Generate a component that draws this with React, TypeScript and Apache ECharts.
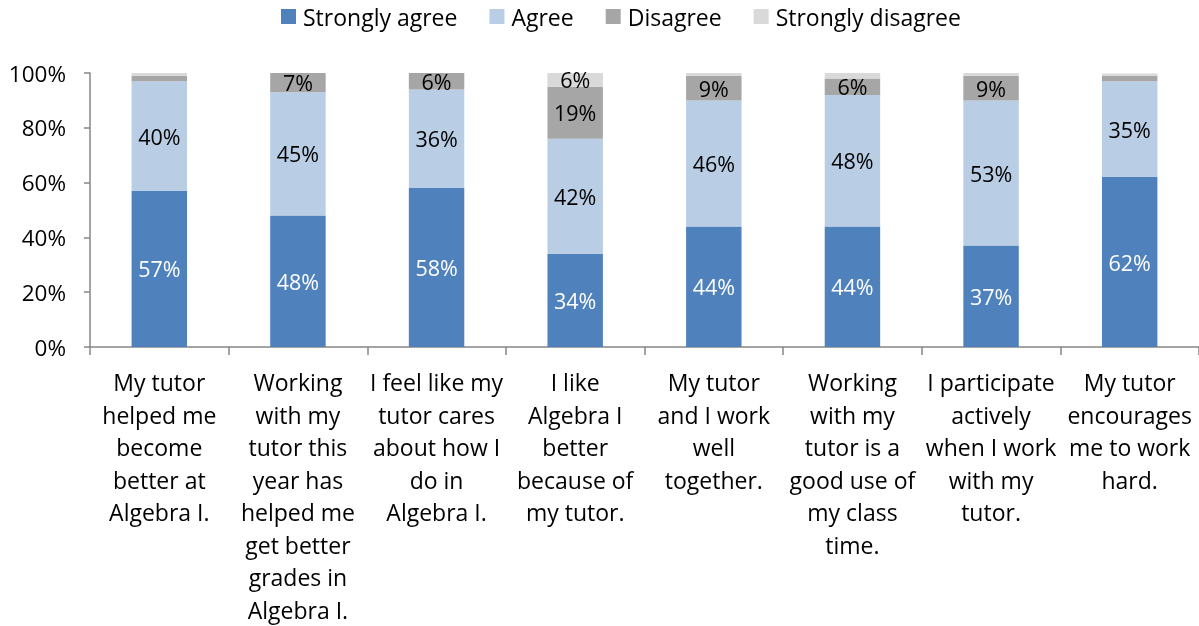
import React, { useEffect, useRef } from "react";
import * as echarts from "echarts";

const categories = [
  "My tutor\nhelped me\nbecome\nbetter at\nAlgebra I.",
  "Working\nwith my\ntutor this\nyear has\nhelped me\nget better\ngrades in\nAlgebra I.",
  "I feel like my\ntutor cares\nabout how I\ndo in\nAlgebra I.",
  "I like\nAlgebra I\nbetter\nbecause of\nmy tutor.",
  "My tutor\nand I work\nwell\ntogether.",
  "Working\nwith my\ntutor is a\ngood use of\nmy class\ntime.",
  "I participate\nactively\nwhen I work\nwith my\ntutor.",
  "My tutor\nencourages\nme to work\nhard.",
];

const stronglyAgree = [57, 48, 58, 34, 44, 44, 37, 62];
const agree = [40, 45, 36, 42, 46, 48, 53, 35];
const disagree = [2, 7, 6, 19, 9, 6, 9, 2];
const stronglyDisagree = [1, 0.6, 1, 6, 1, 2, 1.8, 0.8];

const yTicks = [0, 20, 40, 60, 80, 100];

const FONT = "'Open Sans', 'Noto Sans', sans-serif";

export default function App() {
  const ref = useRef<HTMLDivElement>(null);
  useEffect(() => {
    if (!ref.current) return;
    const chart = echarts.init(ref.current, undefined, { renderer: "svg" });
    const lbl = (color: string) => ({
      show: true,
      position: "inside" as const,
      color,
      fontSize: 21.5,
      fontFamily: FONT,
      formatter: (p: any) => (p.value >= 5 ? Math.round(p.value) + "%" : ""),
    });
    const mk = (name: string, data: number[], color: string, lc: string) => ({
      name,
      type: "bar",
      stack: "total",
      barWidth: "40%",
      data,
      itemStyle: { color },
      label: lbl(lc),
    });
    chart.setOption({
      animation: false,
      textStyle: { fontFamily: FONT },
      legend: {
        top: 0,
        left: 276,
        itemWidth: 15,
        itemHeight: 15,
        itemGap: 32,
        icon: "rect",
        textStyle: { fontSize: 23, color: "#000", fontFamily: FONT, padding: [0, 0, 0, 2] },
        data: ["Strongly agree", "Agree", "Disagree", "Strongly disagree"],
      },
      grid: { left: 90, right: -3, top: 73, bottom: 278 },
      xAxis: {
        type: "category",
        data: categories,
        axisLine: { lineStyle: { color: "#868686", width: 1.5 } },
        axisTick: { show: true, length: 8, lineStyle: { color: "#868686", width: 1.5 } },
        axisLabel: {
          interval: 0,
          margin: 19,
          fontSize: 23,
          lineHeight: 32.5,
          color: "#000",
          fontFamily: FONT,
          align: "center",
        },
      },
      yAxis: {
        type: "value",
        min: yTicks[0],
        max: yTicks[yTicks.length - 1],
        interval: 20,
        axisLine: { show: true, lineStyle: { color: "#868686", width: 1.5 } },
        axisTick: { show: true, length: 6, lineStyle: { color: "#868686", width: 1.5 } },
        splitLine: { show: false },
        axisLabel: {
          formatter: "{value}%",
          fontSize: 22.5,
          margin: 24,
          color: "#000",
          fontFamily: FONT,
        },
      },
      series: [
        mk("Strongly agree", stronglyAgree, "#4F81BD", "#fff"),
        mk("Agree", agree, "#B9CDE5", "#000"),
        mk("Disagree", disagree, "#A6A6A6", "#000"),
        mk("Strongly disagree", stronglyDisagree, "#D9D9D9", "#000"),
      ],
    });
    return () => chart.dispose();
  }, []);
  return (
    <div
      ref={ref}
      style={{ position: "fixed", left: 0, top: 0, width: 1199, height: 626 }}
    />
  );
}
